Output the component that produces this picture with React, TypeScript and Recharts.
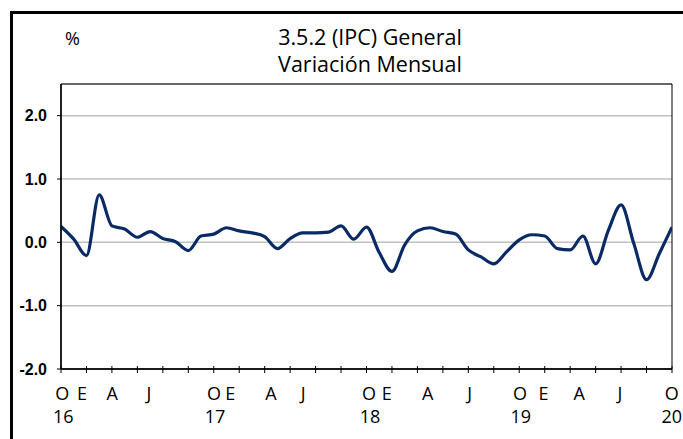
import React from 'react';
import { LineChart, Line, XAxis, YAxis, CartesianGrid, ReferenceArea } from 'recharts';

// Monthly CPI variation, Oct 2016 (index 0) .. Oct 2020 (index 48)
const monthlyValues: number[] = [
  0.25, 0.05, -0.21, 0.75, 0.26, 0.21, 0.08, 0.17, 0.06, 0.01, -0.13, 0.10,
  0.13, 0.23, 0.18, 0.15, 0.09, -0.10, 0.06, 0.15, 0.15, 0.16, 0.26, 0.05,
  0.24, -0.16, -0.46, -0.04, 0.18, 0.23, 0.17, 0.13, -0.12, -0.23, -0.34, -0.15,
  0.04, 0.12, 0.10, -0.10, -0.12, 0.10, -0.34, 0.19, 0.59, -0.02, -0.59, -0.18,
  0.24,
];

const tickMonths: number[] = [0, 2, 4, 6, 8, 10, 12, 14, 16, 18, 20, 22, 24, 26, 28, 30, 32, 34, 36, 38, 40, 42, 44, 46, 48];
const monthLabels: string[] = ['O', 'E', 'A', 'J', 'O', 'E', 'A', 'J', 'O', 'E', 'A', 'J', 'O', 'E', 'A', 'J', 'O'];
const monthLabelPos: number[] = [0.1, 1.65, 4.03, 6.9, 12.03, 13.3, 16.5, 19.03, 24.2, 25.6, 28.8, 32.1, 36.05, 37.9, 40.7, 43.9, 47.99];
const yearLabels: string[] = ['16', '', '', '', '17', '', '', '', '18', '', '', '', '19', '', '', '', '20'];
const yTicks: number[] = [-2, -1, 0, 1, 2];

const data = monthlyValues.map((v, i) => ({ m: i, v }));
const allTicks = [...tickMonths, ...monthLabelPos];

const FONT = '"Open Sans", "Noto Sans", sans-serif';

const XTick = (props: any) => {
  const { x, y, payload } = props;
  const val = payload.value;
  const li = monthLabelPos.indexOf(val);
  if (li >= 0) {
    const yr = yearLabels[li];
    return (
      <g>
        <text x={x} y={y + 31} textAnchor="middle" fontFamily={FONT} fontSize={18} fill="#000">
          {monthLabels[li]}
        </text>
        {yr ? (
          <text x={x + (li === monthLabels.length - 1 ? 0 : 1)} y={y + 54} textAnchor="middle" fontFamily={FONT} fontSize={18} fill="#000">
            {yr}
          </text>
        ) : null}
      </g>
    );
  }
  return <line x1={x} x2={x} y1={y - 3} y2={y + 4} stroke="#000" strokeWidth={1} />;
};

export default function App() {
  return (
    <div style={{ position: 'absolute', left: 0, top: 0, width: 683, height: 439, overflow: 'hidden', background: '#fff' }}>
      <div style={{ position: 'absolute', left: 10, top: 11, width: 720, height: 520, border: '3px solid #000' }} />
      <div style={{ position: 'absolute', left: 0, top: 0 }}>
        <LineChart width={683} height={439} data={data} margin={{ top: 84, right: 11, bottom: 20, left: 11 }}>
          <text x={65} y={45} fontFamily={FONT} fontSize={18} fill="#000">%</text>
          <text x={370} y={44.5} textAnchor="middle" fontFamily={FONT} fontSize={21.5} fill="#000">3.5.2 (IPC) General</text>
          <text x={370} y={72} textAnchor="middle" fontFamily={FONT} fontSize={21.5} fill="#000">Variación Mensual</text>
          <CartesianGrid vertical={false} stroke="#c0c0c0" strokeWidth={1.5} />
          <ReferenceArea x1={0} x2={48} y1={-2} y2={2.5} fill="none" stroke="#000" strokeWidth={1} ifOverflow="visible" />
          <XAxis
            dataKey="m"
            type="number"
            domain={[0, 48]}
            ticks={allTicks}
            interval={0}
            tickSize={0}
            tickMargin={0}
            tickLine={false}
            axisLine={{ stroke: '#000', strokeWidth: 1.5 }}
            tick={<XTick />}
            height={50}
            allowDataOverflow
          />
          <YAxis
            type="number"
            domain={[-2, 2.5]}
            ticks={yTicks}
            interval={0}
            width={50}
            tickSize={4}
            tickMargin={10}
            tickLine={{ stroke: '#000' }}
            axisLine={{ stroke: '#000', strokeWidth: 1.5 }}
            tickFormatter={(v: number) => v.toFixed(1)}
            tick={{ fill: '#000', fontSize: 16, fontWeight: 'bold', fontFamily: '"Liberation Sans", Arial, sans-serif' }}
            allowDataOverflow
          />
          <Line
            type="monotone"
            dataKey="v"
            stroke="#0a2a66"
            strokeWidth={3.2}
            dot={false}
            isAnimationActive={false}
          />
        </LineChart>
      </div>
    </div>
  );
}
